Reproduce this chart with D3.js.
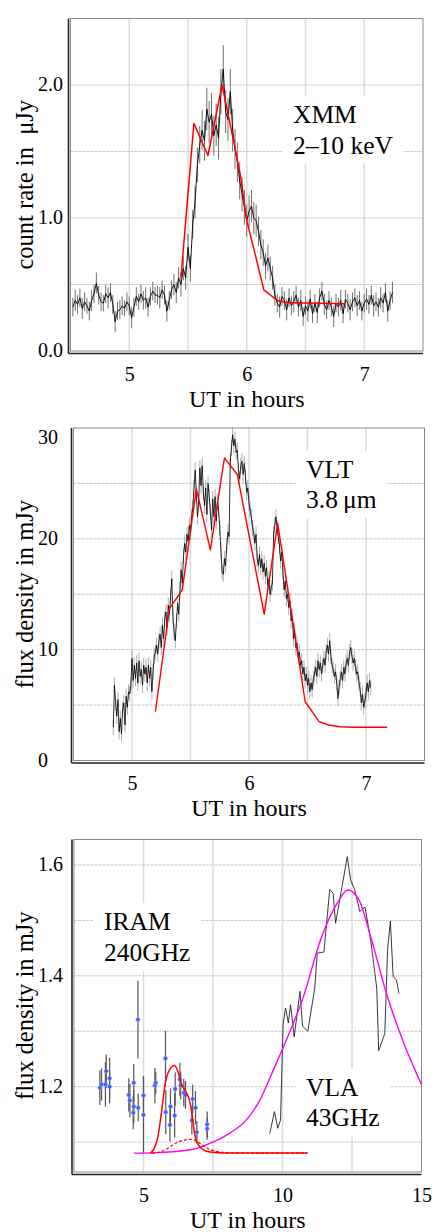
<!DOCTYPE html>
<html><head><meta charset="utf-8">
<script src="https://cdn.jsdelivr.net/npm/d3@7"></script>
<style>
html,body{margin:0;padding:0;background:#fff;}
svg{display:block;font-family:"Liberation Serif","Times New Roman",serif;}
</style></head><body>
<svg id="chart" width="436" height="1232"></svg>
<script>
// ---------------- DATA ----------------
// XMM 2-10 keV light curve (regular time bins)
const xmmStart = 4.52, xmmBin = 0.02;
const xmmRate = [
0.33,0.38,0.35,0.40,0.32,0.37,0.34,0.30,0.38,0.43,
0.51,0.42,0.37,0.36,0.43,0.40,0.44,0.35,0.22,0.30,
0.31,0.34,0.32,0.37,0.34,0.25,0.33,0.41,0.37,0.43,
0.38,0.40,0.33,0.41,0.45,0.42,0.42,0.40,0.46,0.42,
0.30,0.38,0.46,0.50,0.44,0.55,0.50,0.62,0.55,0.78,
0.62,0.95,1.12,1.40,1.55,1.66,1.58,1.82,1.72,1.78,
1.62,1.70,1.60,1.95,2.12,1.80,1.74,1.95,1.66,1.52,
1.42,1.28,1.18,1.08,0.98,1.05,1.09,1.00,0.98,0.90,
0.80,0.74,0.64,0.70,0.62,0.55,0.42,0.36,0.33,0.41,
0.38,0.31,0.40,0.34,0.37,0.42,0.33,0.38,0.26,0.34,
0.30,0.39,0.28,0.36,0.29,0.40,0.45,0.35,0.31,0.38,
0.33,0.26,0.36,0.33,0.38,0.28,0.39,0.36,0.31,0.37,
0.40,0.34,0.38,0.30,0.36,0.39,0.35,0.42,0.34,0.37,
0.33,0.40,0.36,0.44,0.30,0.38,0.44];
const xmmErr = [
0.07,0.08,0.07,0.07,0.08,0.07,0.06,0.07,0.08,0.07,
0.08,0.07,0.07,0.06,0.07,0.08,0.07,0.07,0.08,0.07,
0.07,0.07,0.06,0.07,0.07,0.08,0.07,0.07,0.06,0.07,
0.07,0.08,0.07,0.07,0.07,0.06,0.07,0.08,0.07,0.07,
0.08,0.07,0.07,0.08,0.08,0.08,0.09,0.09,0.09,0.10,
0.10,0.11,0.12,0.13,0.14,0.15,0.15,0.16,0.16,0.16,
0.15,0.16,0.16,0.17,0.18,0.16,0.16,0.17,0.16,0.15,
0.15,0.14,0.13,0.13,0.12,0.12,0.12,0.12,0.12,0.11,
0.11,0.10,0.10,0.10,0.09,0.09,0.08,0.07,0.08,0.07,
0.07,0.08,0.07,0.07,0.08,0.07,0.07,0.08,0.07,0.07,
0.08,0.07,0.07,0.07,0.08,0.07,0.07,0.08,0.07,0.07,
0.07,0.08,0.07,0.07,0.08,0.07,0.07,0.07,0.08,0.07,
0.07,0.08,0.07,0.07,0.07,0.08,0.07,0.07,0.08,0.07,
0.07,0.08,0.07,0.07,0.08,0.07,0.08];
const xmmModelT = [5.44,5.55,5.67,5.79,5.89,5.95,6.00,6.06,6.145,6.26,6.35,6.50,6.83];
const xmmModelV = [0.55,1.71,1.47,2.00,1.57,1.30,0.98,0.77,0.46,0.38,0.365,0.36,0.355];

// VLT 3.8 micron light curve (regular time bins)
const vltStart = 4.84, vltBin = 0.01, vltErr = 0.7;
const vltFlux = [
3.0,6.8,5.2,4.0,5.5,2.6,3.8,2.4,4.6,5.2,
3.2,5.8,4.8,6.2,6.0,6.8,9.2,7.2,8.6,7.4,
8.8,7.0,9.0,7.6,8.2,6.8,8.6,7.8,8.4,7.0,
8.6,7.4,8.4,6.2,8.0,9.4,9.8,10.4,9.6,10.8,
11.4,10.2,12.2,11.0,12.8,13.4,12.0,14.0,13.2,14.8,
16.4,13.0,11.6,10.8,12.6,14.2,13.2,15.4,17.2,16.0,
18.4,19.6,18.8,20.4,19.8,21.2,20.6,22.0,22.8,24.6,
26.2,24.0,22.0,23.4,26.4,24.8,26.6,24.2,23.0,24.6,
22.2,25.0,23.8,22.4,20.8,23.6,22.0,23.8,21.6,23.4,
22.6,21.0,19.0,17.0,16.8,18.2,17.6,19.4,20.6,20.2,
27.0,28.2,29.4,28.4,29.0,27.8,28.0,26.2,25.4,26.6,
27.0,25.8,26.8,25.6,24.2,24.6,23.2,22.6,22.0,21.0,
20.6,19.6,20.4,18.2,17.6,18.6,17.4,18.2,17.0,17.8,
16.6,17.4,15.8,16.4,15.0,15.6,16.0,20.4,21.2,22.0,
21.0,20.2,19.4,18.0,18.8,17.0,15.4,16.2,14.6,15.0,
13.8,14.4,12.6,13.0,11.0,11.8,10.2,10.6,9.4,9.8,
8.6,9.0,7.8,8.4,7.2,7.8,6.8,7.4,6.2,7.0,
6.4,7.4,7.8,8.4,7.6,9.0,8.2,8.8,7.8,8.6,
9.2,8.6,9.8,10.4,9.6,10.8,9.4,8.6,8.2,7.6,
8.0,7.0,5.6,6.6,7.4,8.0,7.2,8.4,7.8,8.8,
9.2,8.6,9.8,10.2,9.4,8.8,9.2,8.4,7.8,8.0,
7.0,6.4,5.2,6.0,4.8,5.4,6.0,7.0,6.2,7.2,
6.6];
const vltModelT = [5.20,5.32,5.43,5.55,5.67,5.79,5.90,6.13,6.245,6.48,6.60,6.68,6.78,6.90,7.18];
const vltModelV = [4.4,13.7,15.4,24.5,19.0,27.3,25.8,13.2,21.4,5.3,3.5,3.2,3.05,3.0,3.0];

// IRAM 240 GHz points
const iramT =   [3.43,3.49,3.63,3.66,3.78,3.78,4.47,4.51,4.65,4.65,4.63,4.81,4.80,5.00,5.00,5.41,5.44,5.79,5.80,5.97,5.95,6.12,6.14,6.31,6.34,6.45,6.51,6.74,6.77,6.87,6.92,7.29,7.29];
const iramV =   [1.198,1.204,1.204,1.228,1.215,1.200,1.185,1.175,1.207,1.164,1.153,1.162,1.321,1.184,1.149,1.202,1.207,1.251,1.154,1.164,1.131,1.148,1.196,1.213,1.202,1.189,1.185,1.139,1.178,1.162,1.118,1.132,1.124];
const iramErr = [0.031,0.029,0.040,0.030,0.037,0.030,0.030,0.030,0.034,0.030,0.030,0.025,0.070,0.035,0.069,0.032,0.020,0.050,0.040,0.033,0.030,0.040,0.030,0.030,0.025,0.025,0.025,0.025,0.026,0.030,0.020,0.023,0.020];
// IRAM model curves (solid and dashed)
const iramModelT = [5.25,5.40,5.52,5.65,5.78,5.93,6.12,6.25,6.36,6.50,6.68,6.76,6.83,6.92,7.10,7.40,7.90,10.9];
const iramModelV = [1.080,1.090,1.110,1.155,1.205,1.230,1.238,1.225,1.205,1.193,1.170,1.145,1.118,1.100,1.088,1.082,1.0805,1.0805];
const iramModel2T = [5.30,5.70,5.97,6.25,6.50,6.70,6.93,7.10,7.30,7.77,8.30,10.9];
const iramModel2V = [1.080,1.084,1.092,1.100,1.104,1.105,1.101,1.095,1.089,1.082,1.0805,1.0805];
// VLA 43 GHz light curve
const vlaT = [9.54,9.71,9.83,9.93,10.02,10.11,10.21,10.29,10.42,10.63,10.72,10.91,11.16,11.25,11.49,11.70,11.82,11.91,12.11,12.33,12.45,12.60,12.78,12.97,13.18,13.39,13.46,13.68,13.78,13.88,13.98,14.10,14.19];
const vlaV = [1.115,1.155,1.125,1.140,1.312,1.342,1.315,1.348,1.290,1.372,1.309,1.300,1.378,1.441,1.443,1.556,1.549,1.495,1.552,1.615,1.573,1.555,1.516,1.524,1.462,1.378,1.265,1.296,1.447,1.499,1.399,1.392,1.368];
// VLA model (magenta)
const vlaModelT = [4.65,5.5,6.8,7.5,8.0,8.7,9.2,9.6,10.0,10.77,11.37,11.97,12.35,12.75,13.17,13.77,14.36,15.0];
const vlaModelV = [1.080,1.081,1.087,1.100,1.113,1.140,1.177,1.222,1.268,1.365,1.465,1.531,1.555,1.537,1.471,1.363,1.279,1.204];

// ticks / grid
const p1XTicks = [5,6,7], p1YTicks = [0,1,2], p1GridX = [5,5.5,6,6.5,7], p1GridY = [0.5,1,1.5,2];
const p2XTicks = [5,6,7], p2YTicks = [0,10,20,30], p2GridX = [5,5.5,6,6.5,7], p2GridY = [5,10,15,20,25];
const p3XTicks = [5,10,15], p3YTicks = [1.2,1.4,1.6], p3GridX = [5,7.5,10,12.5], p3GridY = [1.1,1.2,1.3,1.4,1.5,1.6];

// ---------------- DRAWING ----------------
const FONT = '"Liberation Serif","Times New Roman",serif';
const svg = d3.select("#chart");

function panel(cfg) {
  const x = d3.scaleLinear().domain(cfg.xDomain).range([cfg.left, cfg.right]);
  const y = d3.scaleLinear().domain(cfg.yDomain).range([cfg.bottom, cfg.top]);
  const g = svg.append("g");
  g.append("g").selectAll("line").data(cfg.gridX).join("line")
    .attr("x1", d => x(d)).attr("x2", d => x(d)).attr("y1", cfg.top).attr("y2", cfg.bottom)
    .attr("stroke", "#dcdcdc").attr("stroke-width", 1.5);
  g.append("g").selectAll("line").data(cfg.gridY).join("line")
    .attr("x1", cfg.left).attr("x2", cfg.right).attr("y1", d => y(d)).attr("y2", d => y(d))
    .attr("stroke", "#c6c6c6").attr("stroke-width", 1).attr("stroke-dasharray", "3,1");
  g.append("rect").attr("x", cfg.left).attr("y", cfg.top)
    .attr("width", cfg.right - cfg.left).attr("height", cfg.bottom - cfg.top)
    .attr("fill", "none").attr("stroke", "#8a8a8a").attr("stroke-width", 1);

  const xa = g.append("g").attr("transform", `translate(0,${cfg.bottom + 2.5})`)
    .call(d3.axisBottom(x).tickValues(cfg.xTicks).tickSize(0).tickSizeOuter(0).tickFormat(d3.format("d")));
  xa.select(".domain").attr("d", `M${cfg.left - 2},0H${cfg.right}`).attr("stroke", "#222").attr("stroke-width", 1.6);
  xa.selectAll("text").attr("y", 27).attr("dy", null)
    .attr("font-size", 20).attr("font-family", FONT).attr("fill", "#000");

  const ya = g.append("g").attr("transform", `translate(${cfg.left - 2},0)`)
    .call(d3.axisLeft(y).tickValues(cfg.yTicks).tickSize(0).tickSizeOuter(0).tickFormat(cfg.yFormat));
  ya.select(".domain").attr("d", `M0,${cfg.top}V${cfg.bottom + 2.5}`).attr("stroke", "#222").attr("stroke-width", 1.6);
  ya.selectAll(".tick").attr("transform", d => `translate(0,${Math.max(y(d), cfg.top + 10)})`);
  ya.selectAll("text").attr("text-anchor", "start").attr("x", 38 - (cfg.left - 2))
    .attr("font-size", 20).attr("font-family", FONT).attr("fill", "#000");

  g.append("text").attr("x", (cfg.left + cfg.right) / 2).attr("y", cfg.bottom + 55.5)
    .attr("text-anchor", "middle").attr("font-size", 24).attr("font-family", FONT).text("UT in hours");
  g.append("text").attr("transform", `translate(33,${(cfg.top + cfg.bottom) / 2}) rotate(-90)`)
    .attr("text-anchor", "middle").attr("font-size", 24.5).attr("font-family", FONT)
    .style("white-space", "pre").text(cfg.yLabel);

  // annotation boxes (white background hides the grid)
  const notesG = g.append("g");
  cfg.notes.forEach(n => {
    const box = notesG.append("rect").attr("fill", "#fff");
    const t = notesG.append("text").attr("font-size", 25.5).attr("font-family", FONT);
    n.lines.forEach((s, i) => t.append("tspan").attr("x", n.x).attr("y", n.y + i * n.dy).text(s));
    const bb = t.node().getBBox();
    box.attr("x", bb.x - 10).attr("y", bb.y - 4).attr("width", bb.width + 20).attr("height", bb.height + 8);
  });
  const data = g.append("g");
  return {x, y, g: data};
}

function errBars(p, ts, vs, es, color, w) {
  p.g.append("g").selectAll("line").data(ts).join("line")
    .attr("x1", (d) => p.x(d)).attr("x2", (d) => p.x(d))
    .attr("y1", (d, i) => p.y(vs[i] - es[i])).attr("y2", (d, i) => p.y(vs[i] + es[i]))
    .attr("stroke", color).attr("stroke-width", w);
}
function pathLine(p, ts, vs, color, w, curve, dash) {
  const pts = ts.map((t, i) => [t, vs[i]]);
  p.g.append("path").datum(pts)
    .attr("d", d3.line().x(d => p.x(d[0])).y(d => p.y(d[1])).curve(curve || d3.curveLinear))
    .attr("fill", "none").attr("stroke", color).attr("stroke-width", w)
    .attr("stroke-linejoin", "round")
    .attr("stroke-dasharray", dash || null);
}

// Panel 1: XMM
const p1 = panel({left: 70.5, right: 423, top: 18.5, bottom: 351,
  xDomain: [4.5, 7.5], yDomain: [0, 2.5], xTicks: p1XTicks, yTicks: p1YTicks,
  gridX: p1GridX, gridY: p1GridY, yFormat: d3.format(".1f"),
  yLabel: "count rate in  \u03bcJy",
  notes: [{x: 293, y: 123, dy: 30.5, lines: ["XMM", "2\u201310 keV"]}]});
const xmmT = xmmRate.map((v, i) => xmmStart + i * xmmBin);
errBars(p1, xmmT, xmmRate, xmmErr, "#707070", 1);
pathLine(p1, xmmT, xmmRate, "#000", 0.9);
pathLine(p1, xmmModelT, xmmModelV, "#ff0000", 1.5);

// Panel 2: VLT
const p2 = panel({left: 73.5, right: 424.5, top: 428, bottom: 760.5,
  xDomain: [4.5, 7.5], yDomain: [0, 30], xTicks: p2XTicks, yTicks: p2YTicks,
  gridX: p2GridX, gridY: p2GridY, yFormat: d3.format("d"),
  yLabel: "flux density in mJy",
  notes: [{x: 306, y: 478, dy: 30, lines: ["VLT", "3.8\u2009\u03bcm"]}]});
const vltT = vltFlux.map((v, i) => vltStart + i * vltBin);
errBars(p2, vltT, vltFlux, vltFlux.map(() => vltErr), "#8c8c8c", 0.7);
pathLine(p2, vltT, vltFlux, "#000", 0.8);
pathLine(p2, vltModelT, vltModelV, "#ff0000", 1.4);

// Panel 3: IRAM + VLA
const p3 = panel({left: 74, right: 421.5, top: 839.5, bottom: 1172,
  xDomain: [2.5, 15], yDomain: [1.046, 1.646], xTicks: p3XTicks, yTicks: p3YTicks,
  gridX: p3GridX, gridY: p3GridY, yFormat: d3.format(".1f"),
  yLabel: "flux density in mJy",
  notes: [{x: 104, y: 930, dy: 31, lines: ["IRAM", "240GHz"]},
          {x: 306, y: 1096, dy: 29.5, lines: ["VLA", "43GHz"]}]});
errBars(p3, iramT, iramV, iramErr, "#555", 1.2);
p3.g.append("g").selectAll("circle").data(iramT).join("circle")
  .attr("cx", d => p3.x(d)).attr("cy", (d, i) => p3.y(iramV[i])).attr("r", 2.1)
  .attr("fill", "#3d5cff").attr("stroke", "#9fb0ff").attr("stroke-width", 0.6);
pathLine(p3, vlaT, vlaV, "#222", 0.9);
pathLine(p3, vlaModelT, vlaModelV, "#ff00ff", 1.4, d3.curveMonotoneX);
pathLine(p3, iramModel2T, iramModel2V, "#ff0000", 1.2, d3.curveMonotoneX, "3,2");
pathLine(p3, iramModelT, iramModelV, "#ff0000", 1.5, d3.curveMonotoneX);
</script>
</body></html>
